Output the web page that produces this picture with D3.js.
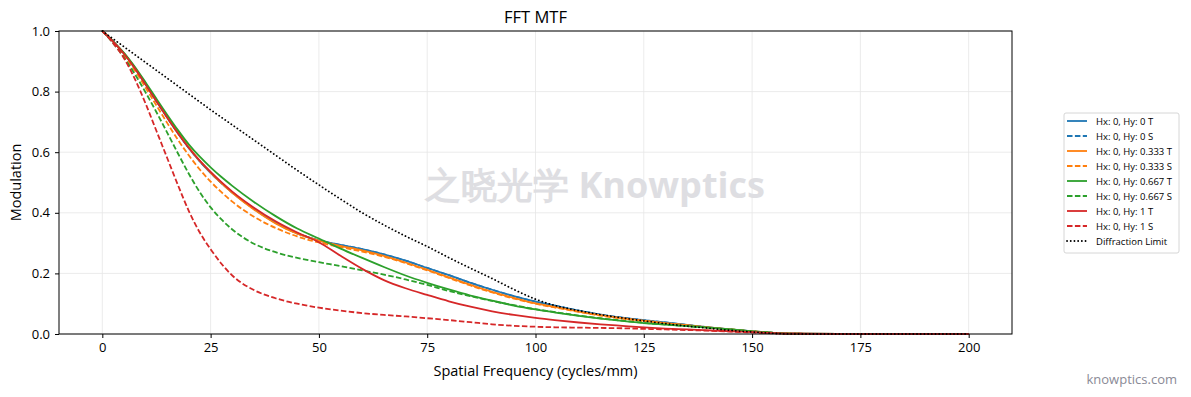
<!DOCTYPE html>
<html>
<head>
<meta charset="utf-8">
<script src="https://cdn.jsdelivr.net/npm/d3@7/dist/d3.min.js"></script>
<style>
  html, body { margin: 0; padding: 0; background: #ffffff; }
  svg { display: block; }
  text { font-family: "Open Sans", "Noto Sans", "DejaVu Sans", sans-serif; }
</style>
</head>
<body>
<svg id="chart" width="1191" height="397"></svg>
<script>
// ---------------- data ----------------
const freqs = [0, 2.5, 5, 7.5, 10, 12.5, 15, 17.5, 20, 22.5, 25, 27.5, 30, 35, 40, 45, 50, 55, 60, 65, 70, 75, 80, 85, 90, 95, 100, 105, 110, 115, 120, 125, 130, 135, 140, 145, 150, 155, 160, 170, 180, 190, 200];

const hy0T = [1, 0.965, 0.925, 0.877, 0.823, 0.768, 0.714, 0.662, 0.613, 0.57, 0.532, 0.498, 0.467, 0.413, 0.367, 0.332, 0.309, 0.294, 0.28, 0.263, 0.242, 0.218, 0.194, 0.169, 0.146, 0.125, 0.107, 0.092, 0.077, 0.064, 0.054, 0.046, 0.038, 0.03, 0.022, 0.015, 0.009, 0.004, 0.001, 0, 0, 0, 0];
const hy0S = [1, 0.965, 0.925, 0.877, 0.823, 0.768, 0.714, 0.662, 0.613, 0.57, 0.532, 0.498, 0.467, 0.413, 0.367, 0.332, 0.309, 0.294, 0.28, 0.263, 0.242, 0.218, 0.194, 0.169, 0.146, 0.125, 0.107, 0.092, 0.077, 0.064, 0.054, 0.046, 0.038, 0.03, 0.022, 0.015, 0.009, 0.004, 0.001, 0, 0, 0, 0];
const hy333T = [1, 0.965, 0.926, 0.879, 0.826, 0.771, 0.717, 0.665, 0.615, 0.571, 0.533, 0.498, 0.466, 0.411, 0.365, 0.331, 0.308, 0.291, 0.276, 0.258, 0.236, 0.212, 0.187, 0.162, 0.139, 0.119, 0.101, 0.088, 0.074, 0.062, 0.052, 0.044, 0.036, 0.029, 0.022, 0.015, 0.009, 0.004, 0.001, 0, 0, 0, 0];
const hy333S = [1, 0.963, 0.92, 0.87, 0.813, 0.754, 0.696, 0.64, 0.589, 0.543, 0.503, 0.468, 0.437, 0.387, 0.35, 0.322, 0.302, 0.287, 0.272, 0.255, 0.234, 0.21, 0.185, 0.16, 0.137, 0.117, 0.1, 0.086, 0.073, 0.061, 0.051, 0.043, 0.035, 0.028, 0.021, 0.015, 0.009, 0.004, 0.001, 0, 0, 0, 0];
const hy667T = [1, 0.966, 0.928, 0.882, 0.83, 0.776, 0.723, 0.672, 0.625, 0.585, 0.55, 0.518, 0.489, 0.436, 0.389, 0.348, 0.315, 0.282, 0.251, 0.221, 0.193, 0.169, 0.147, 0.127, 0.11, 0.094, 0.081, 0.07, 0.06, 0.051, 0.043, 0.036, 0.031, 0.026, 0.021, 0.015, 0.009, 0.004, 0.001, 0, 0, 0, 0];
const hy667S = [1, 0.96, 0.913, 0.858, 0.797, 0.732, 0.664, 0.595, 0.528, 0.468, 0.418, 0.378, 0.345, 0.298, 0.27, 0.251, 0.237, 0.224, 0.21, 0.196, 0.18, 0.162, 0.142, 0.125, 0.109, 0.095, 0.082, 0.071, 0.061, 0.052, 0.044, 0.037, 0.031, 0.026, 0.021, 0.015, 0.009, 0.004, 0.001, 0, 0, 0, 0];
const hy1T = [1, 0.965, 0.925, 0.877, 0.823, 0.768, 0.714, 0.662, 0.614, 0.572, 0.535, 0.501, 0.47, 0.417, 0.372, 0.335, 0.303, 0.258, 0.215, 0.178, 0.151, 0.129, 0.108, 0.09, 0.075, 0.063, 0.053, 0.045, 0.038, 0.032, 0.027, 0.022, 0.018, 0.015, 0.012, 0.009, 0.006, 0.003, 0.001, 0, 0, 0, 0];
const hy1S = [1, 0.96, 0.91, 0.842, 0.76, 0.67, 0.58, 0.49, 0.405, 0.335, 0.28, 0.232, 0.193, 0.145, 0.118, 0.1, 0.087, 0.077, 0.069, 0.063, 0.058, 0.052, 0.046, 0.039, 0.032, 0.027, 0.024, 0.022, 0.021, 0.02, 0.019, 0.017, 0.015, 0.013, 0.011, 0.008, 0.005, 0.002, 0.001, 0, 0, 0, 0];
const diffLimit = [1, 0.974, 0.948, 0.922, 0.896, 0.87, 0.844, 0.818, 0.792, 0.766, 0.74, 0.715, 0.69, 0.64, 0.59, 0.54, 0.492, 0.445, 0.4, 0.36, 0.323, 0.289, 0.252, 0.217, 0.183, 0.147, 0.115, 0.092, 0.077, 0.064, 0.053, 0.043, 0.034, 0.026, 0.019, 0.012, 0.007, 0.002, 0, 0, 0, 0, 0];

const seriesNames = ["Hx: 0, Hy: 0 T", "Hx: 0, Hy: 0 S", "Hx: 0, Hy: 0.333 T", "Hx: 0, Hy: 0.333 S", "Hx: 0, Hy: 0.667 T", "Hx: 0, Hy: 0.667 S", "Hx: 0, Hy: 1 T", "Hx: 0, Hy: 1 S", "Diffraction Limit"];
const seriesValues = [hy0T, hy0S, hy333T, hy333S, hy667T, hy667S, hy1T, hy1S, diffLimit];
const seriesColors = ["#1f77b4", "#1f77b4", "#ff7f0e", "#ff7f0e", "#2ca02c", "#2ca02c", "#d62728", "#d62728", "#000000"];
const seriesDash = ["", "5.5,2.4", "", "5.5,2.4", "", "5.5,2.4", "", "5.5,2.4", "1.6,3"];

const xTicks = [0, 25, 50, 75, 100, 125, 150, 175, 200];
const yTicks = [0, 0.2, 0.4, 0.6, 0.8, 1.0];

// ---------------- layout ----------------
const svg = d3.select("#chart");
const plot = { left: 59, right: 1012, top: 31, bottom: 334 };

const x = d3.scaleLinear().domain([-10, 210]).range([plot.left, plot.right]);
const y = d3.scaleLinear().domain([0, 1]).range([plot.bottom, plot.top]);

svg.append("rect").attr("width", 1191).attr("height", 397).attr("fill", "#ffffff");

// grid
const grid = svg.append("g");
grid.selectAll("line.vx").data(xTicks).enter().append("line")
  .attr("x1", d => x(d)).attr("x2", d => x(d))
  .attr("y1", plot.top).attr("y2", plot.bottom)
  .attr("stroke", "#e6e6e6").attr("stroke-width", 0.8);
grid.selectAll("line.hy").data(yTicks).enter().append("line")
  .attr("x1", plot.left).attr("x2", plot.right)
  .attr("y1", d => y(d)).attr("y2", d => y(d))
  .attr("stroke", "#e6e6e6").attr("stroke-width", 0.8);

// watermark
svg.append("text")
  .attr("x", 595).attr("y", 198)
  .attr("text-anchor", "middle")
  .attr("font-family", "'Noto Sans CJK SC', 'Noto Sans', sans-serif")
  .attr("font-weight", "bold")
  .attr("font-size", 36)
  .attr("fill", "#dedee2")
  .text("之晓光学 Knowptics");

// lines
svg.append("clipPath").attr("id", "clip").append("rect")
  .attr("x", plot.left).attr("y", plot.top - 2)
  .attr("width", plot.right - plot.left).attr("height", plot.bottom - plot.top + 4);

const line = d3.line().x(d => x(d[0])).y(d => y(d[1])).curve(d3.curveMonotoneX);
const linesG = svg.append("g").attr("clip-path", "url(#clip)");
seriesValues.forEach((vals, i) => {
  linesG.append("path")
    .datum(freqs.map((f, j) => [f, vals[j]]))
    .attr("d", line)
    .attr("fill", "none")
    .attr("stroke", seriesColors[i])
    .attr("stroke-width", i === 8 ? 1.8 : 1.8)
    .attr("stroke-linecap", i === 8 ? "round" : "butt")
    .attr("stroke-dasharray", i === 8 ? "0.1,3.6" : (seriesDash[i] || null));
});

// frame
svg.append("rect")
  .attr("x", plot.left).attr("y", plot.top)
  .attr("width", plot.right - plot.left).attr("height", plot.bottom - plot.top)
  .attr("fill", "none").attr("stroke", "#000").attr("stroke-width", 1);

// axes
const xAxis = d3.axisBottom(x).tickValues(xTicks).tickFormat(d3.format("d")).tickSize(4).tickPadding(5);
const yAxis = d3.axisLeft(y).tickValues(yTicks).tickFormat(d3.format(".1f")).tickSize(4).tickPadding(5);

const gx = svg.append("g").attr("transform", `translate(0,${plot.bottom})`).call(xAxis);
const gy = svg.append("g").attr("transform", `translate(${plot.left},0)`).call(yAxis);
[gx, gy].forEach(g => {
  g.select(".domain").remove();
  g.selectAll("line").attr("stroke", "#000");
  g.selectAll("text").attr("font-size", 13).attr("fill", "#000")
    .attr("font-family", "'Open Sans', 'Noto Sans', sans-serif");
});

// title & labels
svg.append("text").attr("x", 535.5).attr("y", 23).attr("text-anchor", "middle")
  .attr("font-size", 16.5).attr("fill", "#000").text("FFT MTF");
svg.append("text").attr("x", 535.5).attr("y", 376).attr("text-anchor", "middle")
  .attr("font-size", 14.5).attr("fill", "#000").text("Spatial Frequency (cycles/mm)");
svg.append("text").attr("transform", `translate(21,${(plot.top + plot.bottom) / 2}) rotate(-90)`)
  .attr("text-anchor", "middle")
  .attr("font-size", 14.5).attr("fill", "#000").text("Modulation");

// legend
const lg = svg.append("g");
lg.append("rect").attr("x", 1064).attr("y", 113).attr("width", 115).attr("height", 140)
  .attr("rx", 2).attr("fill", "#fff").attr("stroke", "#cccccc").attr("stroke-width", 0.8);
seriesNames.forEach((name, i) => {
  const cy = 121 + i * 15;
  lg.append("line").attr("x1", 1067).attr("x2", 1087).attr("y1", cy).attr("y2", cy)
    .attr("stroke", seriesColors[i]).attr("stroke-width", 1.8)
    .attr("stroke-linecap", i === 8 ? "round" : "butt")
    .attr("stroke-dasharray", i === 8 ? "0.1,3.6" : (seriesDash[i] || null));
  lg.append("text").attr("x", 1096).attr("y", cy + 3.5)
    .attr("font-size", 9.5).attr("fill", "#000").text(name);
});

// site credit
svg.append("text").attr("x", 1177).attr("y", 384).attr("text-anchor", "end")
  .attr("font-size", 13).attr("fill", "#8a8a96").text("knowptics.com");
</script>
</body>
</html>
